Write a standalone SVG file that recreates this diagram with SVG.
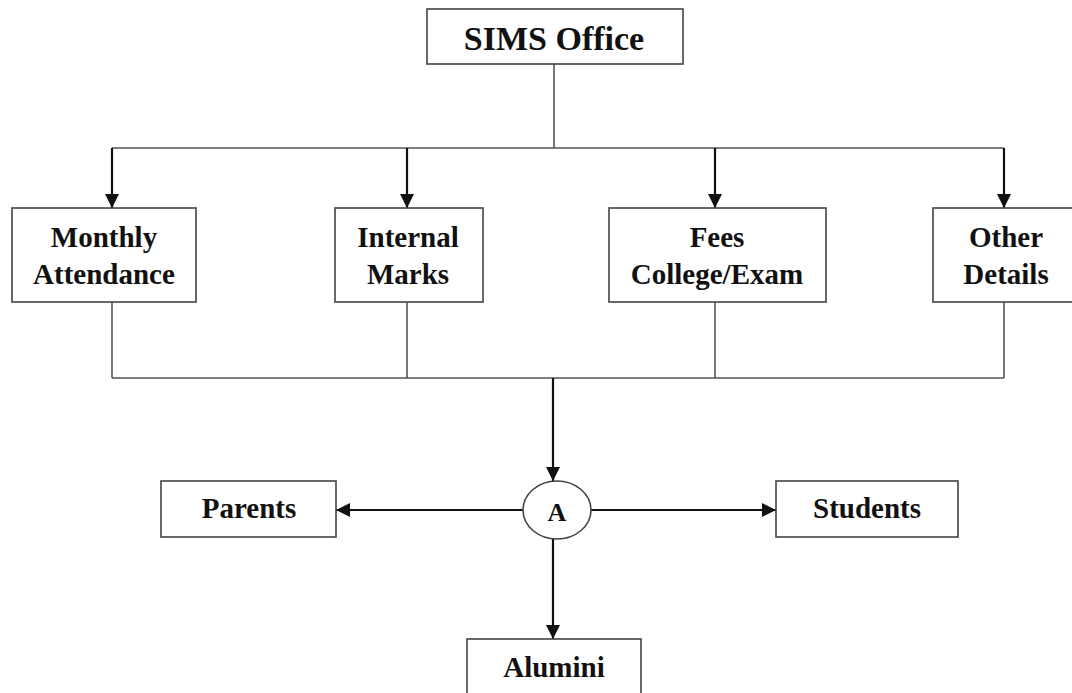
<svg xmlns="http://www.w3.org/2000/svg" width="1072" height="693" viewBox="0 0 1072 693">
<defs>
<style>
.box{fill:#fff;stroke:#444;stroke-width:1.6}
.t{font-family:"Liberation Serif","Times New Roman",serif;font-weight:bold;font-size:29px;fill:#111;text-anchor:middle}
.ln{fill:none;stroke:#555;stroke-width:1.6}
.ar{fill:none;stroke:#111;stroke-width:2.2;marker-end:url(#ah)}
</style>
<marker id="ah" viewBox="0 0 10 10" refX="10" refY="5" markerWidth="14" markerHeight="14" markerUnits="userSpaceOnUse" orient="auto">
<path d="M0,0 L10,5 L0,10 z" fill="#111"/>
</marker>
</defs>
<rect width="1072" height="693" fill="#fff"/>
<g id="connectors">
<path class="ln" d="M554,64 V148 M112,148 H1004"/>
<path class="ar" d="M112,148 V208"/>
<path class="ar" d="M407,148 V208"/>
<path class="ar" d="M715,148 V208"/>
<path class="ar" d="M1004,148 V208"/>
<path class="ln" d="M112,302 V378 M407,302 V378 M715,302 V378 M1004,302 V378 M112,378 H1004"/>
<path class="ar" d="M553,378 V481"/>
<path class="ar" d="M523,510 H336"/>
<path class="ar" d="M591,510 H776"/>
<path class="ar" d="M553,539 V639"/>
</g>
<g id="sims">
<rect class="box" x="427" y="9" width="256" height="55"/>
<text class="t" x="554" y="50" style="font-size:34px">SIMS Office</text>
</g>
<g id="monthly">
<rect class="box" x="12" y="208" width="184" height="94"/>
<text class="t" x="104" y="247">Monthly</text>
<text class="t" x="104" y="284">Attendance</text>
</g>
<g id="internal">
<rect class="box" x="335" y="208" width="148" height="94"/>
<text class="t" x="408" y="247">Internal</text>
<text class="t" x="408" y="284">Marks</text>
</g>
<g id="fees">
<rect class="box" x="609" y="208" width="217" height="94"/>
<text class="t" x="717" y="247">Fees</text>
<text class="t" x="717" y="284">College/Exam</text>
</g>
<g id="other">
<rect class="box" x="933" y="208" width="150" height="94"/>
<text class="t" x="1006" y="247">Other</text>
<text class="t" x="1006" y="284">Details</text>
</g>
<g id="a">
<ellipse class="box" cx="557" cy="510" rx="34" ry="29"/>
<text class="t" x="557" y="521" style="font-size:26px">A</text>
</g>
<g id="parents">
<rect class="box" x="161" y="481" width="175" height="56"/>
<text class="t" x="249" y="518">Parents</text>
</g>
<g id="students">
<rect class="box" x="776" y="481" width="182" height="56"/>
<text class="t" x="867" y="518">Students</text>
</g>
<g id="alumini">
<rect class="box" x="467" y="639" width="174" height="70"/>
<text class="t" x="554" y="677">Alumini</text>
</g>
</svg>
